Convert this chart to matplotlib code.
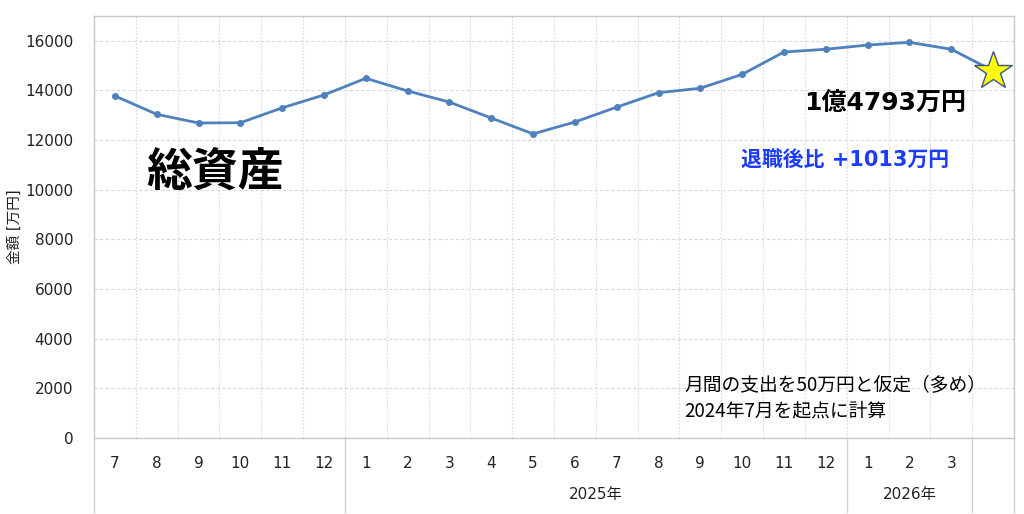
import numpy as np
import matplotlib.pyplot as plt
from matplotlib.transforms import blended_transform_factory

plt.rcParams['font.family'] = ['DejaVu Sans', 'Noto Sans CJK JP']

# monthly labels (Jul 2024 .. Mar 2026, plus one blank slot for the star)
months = ['7', '8', '9', '10', '11', '12',
          '1', '2', '3', '4', '5', '6', '7', '8', '9', '10', '11', '12',
          '1', '2', '3', '']
# year groups: (label, first slot, last slot)
year_groups = [('', 0, 5), ('2025年', 6, 17), ('2026年', 18, 20), ('', 21, 21)]

# total assets [万円]
assets = [13780, 13040, 12690, 12700, 13300, 13820,
          14490, 13980, 13530, 12890, 12250, 12730, 13330, 13910, 14090, 14650,
          15550, 15660, 15830, 15940, 15660]
latest = 14793
latest_idx = 21

line_col = '#4f81bd'
grid_col = '#d9d9d9'
txt_col = '#222222'

fig = plt.figure(figsize=(10.24, 5.14), dpi=100)
ax = fig.add_axes([94/1024, 76/514, (1014-94)/1024, (438-16)/514])

x = np.arange(len(assets))
ax.plot(np.append(x, latest_idx), assets + [latest], color=line_col, lw=2,
        zorder=3)
ax.plot(x, assets, 'o', color=line_col, ms=4, zorder=4)
ax.plot(latest_idx, latest, marker='*', ms=29, color='#ffff00',
        markeredgecolor='#3b5486', markeredgewidth=1.0, zorder=5, clip_on=False)

ax.set_xlim(-0.5, len(months) - 0.5)
ax.set_ylim(0, 17000)
ax.set_yticks(np.arange(0, 16001, 2000))
ax.set_xticks(np.arange(len(months)))
ax.set_xticklabels(months)
ax.tick_params(axis='both', length=0, labelsize=11, colors=txt_col)
ax.tick_params(axis='x', pad=13)
ax.tick_params(axis='y', pad=15)

for yv in np.arange(2000, 16001, 2000):
    ax.axhline(yv, color=grid_col, lw=0.8, ls=(0, (3, 2)), zorder=1)
for xv in np.arange(0.5, len(months) - 1, 1):
    ax.axvline(xv, color=grid_col, lw=0.8, ls=(0, (1.5, 1.5)), zorder=1)

for s in ax.spines.values():
    s.set_color('#c8c8c8')
    s.set_linewidth(1)

# category axis group separators and year labels
tr = blended_transform_factory(ax.transData, ax.transAxes)
for lab, a, b in year_groups:
    ax.plot([a - 0.5, a - 0.5], [0, -0.175], transform=tr, color='#d0d0d0',
            lw=1, clip_on=False)
    if lab:
        ax.text((a + b) / 2, -0.135, lab, transform=tr, ha='center',
                va='center', fontsize=11, color=txt_col)
ax.plot([len(months) - 0.5] * 2, [0, -0.175], transform=tr, color='#d0d0d0',
        lw=1, clip_on=False)

ax.set_ylabel('金額 [万円]', fontsize=10.5, color=txt_col, va='center')
ax.yaxis.set_label_coords(-0.087, 0.5)

ax.text(2.4, 10700, '総資産', fontsize=33, fontweight='bold', ha='center',
        va='center', family=['Noto Sans CJK JP'])
ax.text(18.42, 13500, '1億4793万円', fontsize=18, fontweight='bold',
        ha='center', va='center')
ax.text(17.47, 11200, '退職後比 +1013万円', fontsize=15, fontweight='bold',
        color='#1a3cff', ha='center', va='center')
ax.text(13.61, 1630, '月間の支出を50万円と仮定（多め）\n2024年7月を起点に計算',
        fontsize=13.5, ha='left', va='center', linespacing=1.3,
        family=['Noto Sans CJK JP'])

fig.savefig('out.png', dpi=100)
